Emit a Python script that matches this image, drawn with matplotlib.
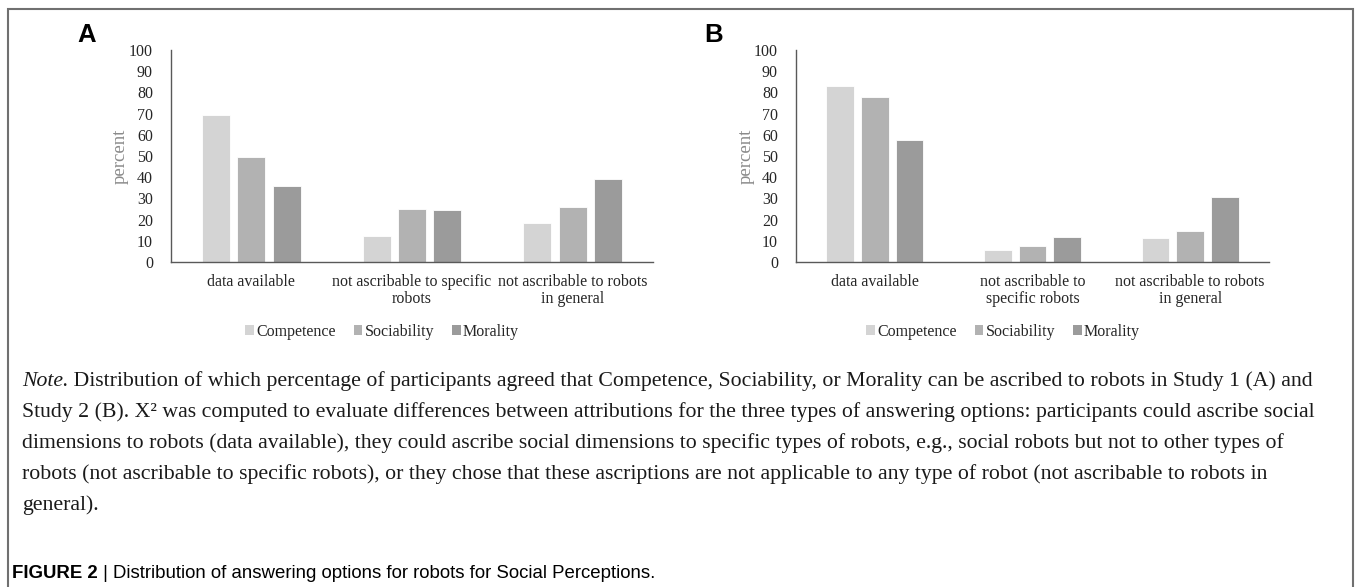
import matplotlib
matplotlib.use("Agg")
import matplotlib.pyplot as plt
import numpy as np
from matplotlib.patches import Patch, Rectangle

# --- data (percent of participants) ---------------------------------------
SERIES = ["Competence", "Sociability", "Morality"]
COLORS = ["#d4d4d4", "#b2b2b2", "#9b9b9b"]

CATS_A = ["data available", "not ascribable to specific\nrobots",
          "not ascribable to robots\nin general"]
CATS_B = ["data available", "not ascribable to\nspecific robots",
          "not ascribable to robots\nin general"]

# study 1 (panel A): one list per series, in category order
competence_a = [69.5, 12.3, 18.2]
sociability_a = [49.5, 24.8, 25.8]
morality_a = [35.8, 24.7, 39.3]

# study 2 (panel B)
competence_b = [83.0, 5.7, 11.3]
sociability_b = [78.0, 7.4, 14.8]
morality_b = [57.4, 11.8, 30.7]

Y_TICKS = list(range(0, 101, 10))

NOTE_LINES = [
    "Distribution of which percentage of participants agreed that Competence, "
    "Sociability, or Morality can be ascribed to robots in Study 1 (A) and",
    "Study 2 (B). X\u00b2 was computed to evaluate differences between attributions "
    "for the three types of answering options: participants could ascribe social",
    "dimensions to robots (data available), they could ascribe social dimensions "
    "to specific types of robots, e.g., social robots but not to other types of",
    "robots (not ascribable to specific robots), or they chose that these "
    "ascriptions are not applicable to any type of robot (not ascribable to robots in",
    "general).",
]
CAPTION = "Distribution of answering options for robots for Social Perceptions."

SERIF = "Liberation Serif"
SANS = "Liberation Sans"
W, H = 1355, 587
NOTE_SIZE = 15.7


def draw_panel(ax, cats, values):
    x = np.arange(len(cats))
    bw, step = 0.175, 0.22
    for i, (vals, col) in enumerate(zip(values, COLORS)):
        ax.bar(x + (i - 1) * step, vals, width=bw, color=col,
               edgecolor="white", linewidth=0.6, zorder=2)
    ax.set_xlim(-0.5, len(cats) - 0.5)
    ax.set_ylim(0, 100)
    ax.set_yticks(Y_TICKS)
    ax.set_xticks(x)
    ax.set_xticklabels(cats, fontsize=11.5, family=SERIF, color="#262626",
                       linespacing=1.05)
    for lab in ax.get_yticklabels():
        lab.set_fontsize(11.5)
        lab.set_family(SERIF)
        lab.set_color("#262626")
    ax.tick_params(axis="both", length=0)
    ax.tick_params(axis="y", pad=13)
    ax.tick_params(axis="x", pad=9)
    for s in ("top", "right"):
        ax.spines[s].set_visible(False)
    for s in ("left", "bottom"):
        ax.spines[s].set_color("#595959")
        ax.spines[s].set_linewidth(1.0)
    ax.text(-0.106, 0.5, "percent", transform=ax.transAxes, rotation=90,
            ha="center", va="center", fontsize=13.5, family=SERIF,
            color="#8a8a8a")
    handles = [Patch(facecolor=c, edgecolor="none", label=s)
               for s, c in zip(SERIES, COLORS)]
    leg = ax.legend(handles=handles, loc="center", ncol=3,
                    bbox_to_anchor=(0.438, -0.33), frameon=False,
                    prop={"family": SERIF, "size": 11.5},
                    handlelength=0.55, handleheight=0.55,
                    handletextpad=0.15, columnspacing=1.1)
    for t in leg.get_texts():
        t.set_color("#262626")


fig = plt.figure(figsize=(W / 100, H / 100), dpi=100)

# outer frame
fig.patches.append(Rectangle((8 / W, -0.01), (1353 - 8) / W, 1 - 9 / H + 0.01,
                             transform=fig.transFigure, fill=False,
                             edgecolor="#707070", linewidth=1.5))

ax_a = fig.add_axes([171 / W, 1 - 262 / H, (653 - 171) / W, 212 / H])
ax_b = fig.add_axes([796 / W, 1 - 262 / H, (1269 - 796) / W, 212 / H])
draw_panel(ax_a, CATS_A, [competence_a, sociability_a, morality_a])
draw_panel(ax_b, CATS_B, [competence_b, sociability_b, morality_b])

fig.text(87 / W, 1 - 35 / H, "A", fontsize=18.5, fontweight="bold",
         family=SANS, ha="center", va="center")
fig.text(714 / W, 1 - 35 / H, "B", fontsize=18.5, fontweight="bold",
         family=SANS, ha="center", va="center")

# note below the charts (baselines)
note_x = 22 / W
line_y = [386, 417, 448, 479, 510]
t0 = fig.text(note_x, 1 - line_y[0] / H, "Note.", fontsize=NOTE_SIZE,
              family=SERIF, style="italic", va="baseline", color="#1a1a1a")
plt.annotate(" " + NOTE_LINES[0], xy=(1, 0), xycoords=t0,
             va="bottom", ha="left", fontsize=NOTE_SIZE, family=SERIF,
             color="#1a1a1a", annotation_clip=False)
for yy, line in zip(line_y[1:], NOTE_LINES[1:]):
    fig.text(note_x, 1 - yy / H, line, fontsize=NOTE_SIZE, family=SERIF,
             va="baseline", color="#1a1a1a")

# caption
c0 = fig.text(12 / W, 1 - 573 / H, "FIGURE 2", fontsize=13.4,
              fontweight="bold", family=SANS, va="center")
plt.annotate(" | " + CAPTION, xy=(1, 0), xycoords=c0, va="bottom",
             ha="left", fontsize=13.4, family=SANS, annotation_clip=False)

fig.savefig("out.png", dpi=100)
